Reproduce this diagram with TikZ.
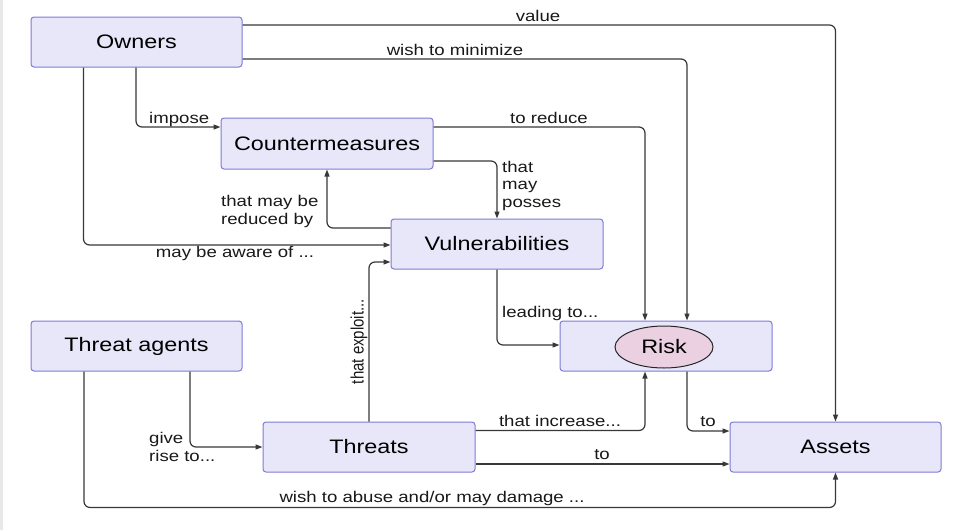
\documentclass[tikz,border=0pt]{standalone}
\usepackage{graphicx}
\usepackage{fontspec}
\setmainfont{Liberation Sans}[FakeStretch=1.2]
\newfontfamily\plainsans{Liberation Sans}
\usetikzlibrary{arrows.meta,shapes.geometric}
\definecolor{boxfill}{HTML}{E8E6F9}
\definecolor{boxline}{HTML}{7F7BD6}
\definecolor{riskfill}{HTML}{EBD0E2}
\definecolor{linecol}{HTML}{383838}
\tikzset{
  box/.style={draw=boxline, fill=boxfill, line width=1pt, rounded corners=3pt,
    minimum width=211pt, minimum height=50pt, inner sep=0pt,
    font=\fontsize{19.5}{22}\selectfont},
  riskell/.style={ellipse, draw=black!85, fill=riskfill, line width=1pt,
    minimum width=98pt, minimum height=42pt, inner sep=0pt,
    font=\fontsize{19.5}{22}\selectfont},
  conn/.style={draw=linecol, line width=1.2pt, rounded corners=6pt,
    -{Triangle[length=7pt,width=5pt]}},
  lab/.style={inner sep=0pt, font=\fontsize{15.5}{17.5}\selectfont, text=black!90},
}
\begin{document}
\begin{tikzpicture}[x=1pt,y=-1pt]
\useasboundingbox (0,0) rectangle (955,530);
\fill[white] (0,0) rectangle (955,530);
\fill[gray!18] (0,0) rectangle (2.5,530);

% nodes
\node[box] (own) at (136.5,42) {Owners};
\node[box, minimum width=212pt, minimum height=51pt] (cm) at (327,143.5) {Countermeasures};
\node[box, minimum width=212pt] (vul) at (497,244) {Vulnerabilities};
\node[box] (ta) at (136.5,346) {Threat agents};
\node[box, minimum width=212pt] (thr) at (369,447) {Threats};
\node[box, minimum width=212pt] (riskbox) at (666,346) {};
\node[riskell] (risk) at (664,347) {Risk};
\node[box] (ast) at (835.5,447) {Assets};

% connectors
\draw[conn] ([yshift=17pt]own.east) -| (ast.north);
\draw[conn] ([yshift=-17pt]own.east) -| ([xshift=21pt]riskbox.north);
\draw[conn] ([xshift=-0.5pt]own.south) |- ([yshift=16.5pt]cm.west);
\draw[conn] ([xshift=-53pt]own.south) |- ([yshift=-1pt]vul.west);
\draw[conn] ([yshift=16.5pt]cm.east) -| ([xshift=-21pt]riskbox.north);
\draw[conn] ([yshift=-17.5pt]cm.east) -| (vul.north);
\draw[conn] ([yshift=16pt]vul.west) -| (cm.south);
\draw[conn] (vul.south) |- ([yshift=1pt]riskbox.west);
\draw[conn] (thr.north) |- ([yshift=-18pt]vul.west);
\draw[conn] ([xshift=53.5pt]ta.south) |- (thr.west);
\draw[conn] ([xshift=-52.5pt]ta.south) |- ([yshift=-35pt]ast.south) -- (ast.south);
\draw[conn] ([yshift=16.5pt]thr.east) -| ([xshift=-21pt]riskbox.south);
\draw[conn] ([yshift=-17pt]thr.east) -- ([yshift=-17pt]ast.west);
\draw[conn] ([xshift=21pt]riskbox.south) |- ([yshift=16pt]ast.west);

% labels
\node[lab, anchor=base] (lvalue) at (538,21) {value};
\node[lab, anchor=base] (lmin) at (455,55) {wish to minimize};
\node[lab, anchor=base west] (limp) at (149,123) {impose};
\node[lab, anchor=base] (lred) at (549,123) {to reduce};
\node[lab, anchor=base west] (lpos1) at (502,172) {that};
\node[lab, anchor=base west] (lpos2) at (502,189.5) {may};
\node[lab, anchor=base west] (lpos3) at (502,207) {posses};
\node[lab, anchor=base west] (lrb1) at (221,206.5) {that may be};
\node[lab, anchor=base west] (lrb2) at (221,224) {reduced by};
\node[lab, anchor=base] (laware) at (235,257) {may be aware of ...};
\node[lab, anchor=base west] (llead) at (502,317) {leading to...};
\node[lab, anchor=base, rotate=90, font=\fontsize{15}{17}\plainsans] (lexp) at (363.5,341.5) {\scalebox{1}[1.2]{that exploit...}};
\node[lab, anchor=base west] (lgive1) at (149,443) {give};
\node[lab, anchor=base west] (lgive2) at (149,461) {rise to...};
\node[lab, anchor=base] (linc) at (560,426) {that increase...};
\node[lab, anchor=base] (lto1) at (708,426) {to};
\node[lab, anchor=base] (lto2) at (602,459) {to};
\node[lab, anchor=base] (labuse) at (432,502) {wish to abuse and/or may damage ...};
\end{tikzpicture}
\end{document}
